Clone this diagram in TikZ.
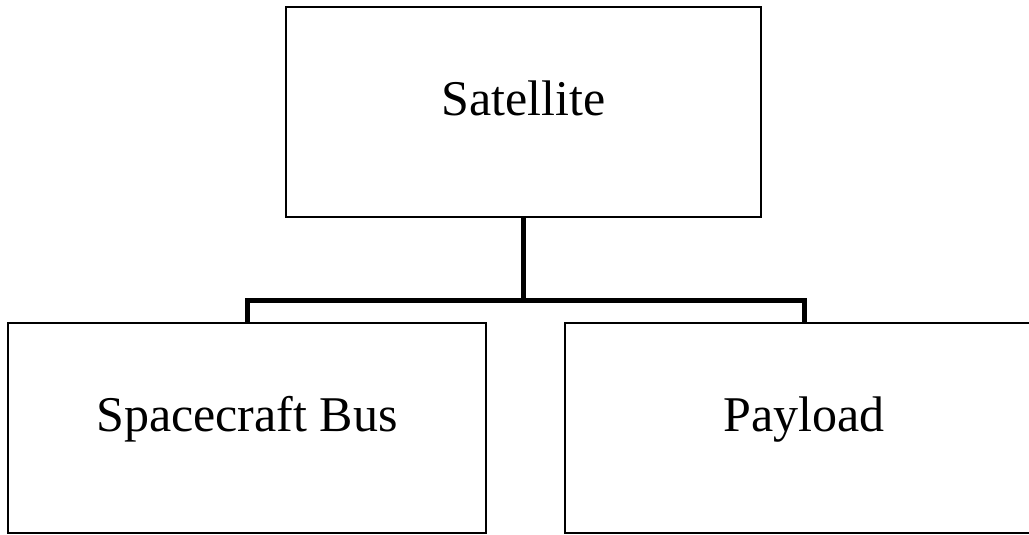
\documentclass[tikz,border=0pt]{standalone}
\usepackage{fontspec}
\setmainfont{Liberation Serif}

\begin{document}
\begin{tikzpicture}[x=0.75pt,y=-0.75pt,
    box node/.style={rectangle,draw,line width=1.5pt,minimum width=358.5pt,minimum height=157.5pt,text height=20pt,text depth=15pt,font=\fontsize{37.5}{45}\selectfont},
    bar/.style={line width=3.75pt,line join=miter}]

            \useasboundingbox (0,0) rectangle (1029,535);

            \node[box node, minimum width=356.25pt]  (sat) at (523.5,112) {Satellite};
            \node[box node]  (bus) at (247,428) {Spacecraft Bus};
            \node[box node]  (pay) at (804,428) {Payload};

            \coordinate (fork) at (523.5,300);

            \draw[bar] (sat.south) -- (fork);
            \draw[bar] (bus.north) |- (fork) -| (pay.north);
        \end{tikzpicture}
\end{document}
